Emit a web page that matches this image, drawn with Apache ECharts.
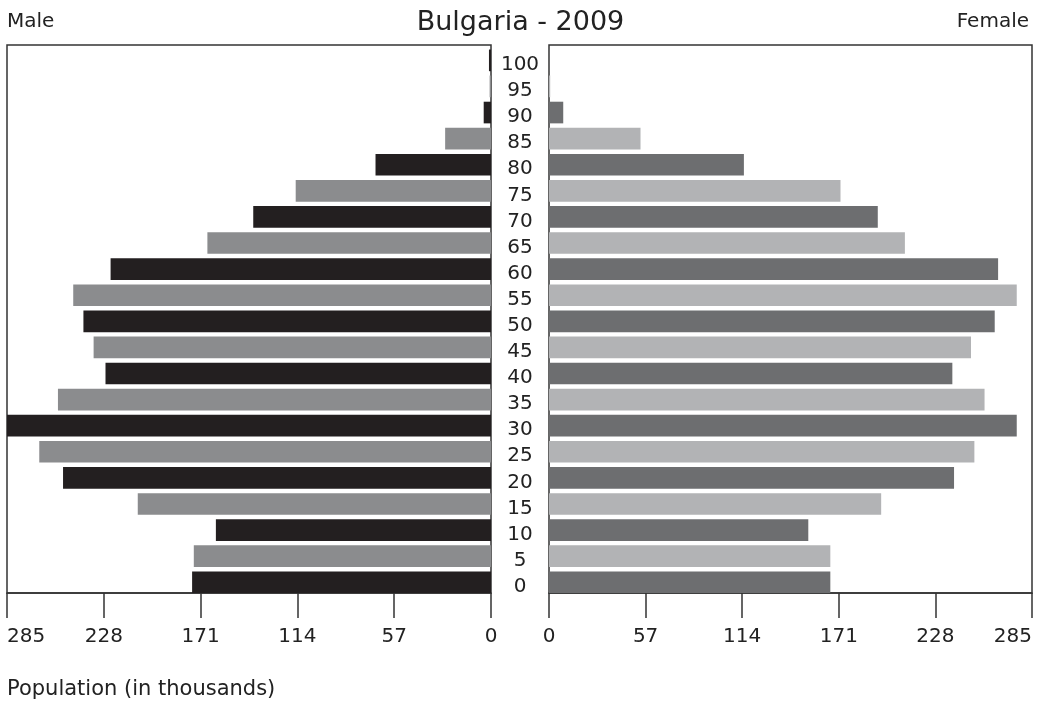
<!DOCTYPE html>
<html>
<head>
<meta charset="utf-8">
<script src="https://cdn.jsdelivr.net/npm/echarts@6/dist/echarts.min.js"></script>
<style>html,body{margin:0;padding:0;background:#fff}#c{width:1041px;height:702px}</style>
</head>
<body>
<div id="c"></div>
<script>
const ages = ['0','5','10','15','20','25','30','35','40','45','50','55','60','65','70','75','80','85','90','95','100'];
const male = [176, 175, 162, 208, 252, 266, 285, 255, 227, 234, 240, 246, 224, 167, 140, 115, 68, 27, 4.3, 0.8, 1.2];
const female = [166, 166, 153, 196, 239, 251, 276, 257, 238, 249, 263, 276, 265, 210, 194, 172, 115, 54, 8.4, 0.7, 0.2];
const xTicks = [0, 57, 114, 171, 228, 285];

const FONT = 'DejaVu Sans';
const maleColors = ['#231f20', '#8b8c8e'];
const femaleColors = ['#6d6e70', '#b2b3b5'];

const chart = echarts.init(document.getElementById('c'));
const range = { type: 'value', min: xTicks[0], max: xTicks[xTicks.length - 1], interval: xTicks[1] - xTicks[0] };
const xVisible = Object.assign({}, range, {
  splitLine: { show: false },
  axisLine: { show: true, lineStyle: { color: '#333', width: 1.5 } },
  axisTick: { show: true, length: 25, lineStyle: { color: '#333', width: 1.5 } },
  axisLabel: { fontFamily: FONT, fontSize: 20, color: '#222', margin: 34 }
});
const xHidden = Object.assign({}, range, { show: false, splitLine: { show: false } });
const gridBase = { containLabel: false, outerBoundsMode: 'none' };
const LEFT = { left: 7, width: 484 }, RIGHT = { left: 549, width: 483 };
chart.setOption({
  animation: false,
  title: [
    { text: 'Bulgaria - 2009', left: 'center', top: 4, textStyle: { fontFamily: FONT, fontSize: 27, fontWeight: 'normal', color: '#222' } },
    { text: 'Male', left: 2, top: 7, textStyle: { fontFamily: FONT, fontSize: 20, fontWeight: 'normal', color: '#222' } },
    { text: 'Female', right: 7, top: 7, textStyle: { fontFamily: FONT, fontSize: 20, fontWeight: 'normal', color: '#222' } },
    { text: 'Population (in thousands)', left: 2, top: 674, textStyle: { fontFamily: FONT, fontSize: 21, fontWeight: 'normal', color: '#222' } }
  ],
  grid: [
    Object.assign({ top: 47.3, height: 548, show: false }, LEFT, gridBase),
    Object.assign({ top: 47.3, height: 548, show: false }, RIGHT, gridBase),
    Object.assign({ top: 45, height: 548, show: true, borderColor: '#333', borderWidth: 1.5 }, LEFT, gridBase),
    Object.assign({ top: 45, height: 548, show: true, borderColor: '#333', borderWidth: 1.5 }, RIGHT, gridBase)
  ],
  xAxis: [
    Object.assign({ gridIndex: 0, inverse: true }, xHidden),
    Object.assign({ gridIndex: 1 }, xHidden),
    Object.assign({ gridIndex: 2, inverse: true }, xVisible, { axisLabel: Object.assign({}, xVisible.axisLabel, { alignMaxLabel: 'left' }) }),
    Object.assign({ gridIndex: 3 }, xVisible, { axisLabel: Object.assign({}, xVisible.axisLabel, { alignMaxLabel: 'right' }) })
  ],
  yAxis: [
    { type: 'category', gridIndex: 0, data: ages, position: 'right',
      axisLine: { show: false }, axisTick: { show: false },
      axisLabel: { align: 'center', verticalAlign: 'top', lineHeight: 9, margin: 29, fontFamily: FONT, fontSize: 20, color: '#222' } },
    { type: 'category', gridIndex: 1, data: ages,
      axisLine: { show: false }, axisTick: { show: false }, axisLabel: { show: false } },
    { type: 'category', gridIndex: 2, data: ages, show: false },
    { type: 'category', gridIndex: 3, data: ages, show: false }
  ],
  series: [
    { type: 'bar', xAxisIndex: 0, yAxisIndex: 0, data: male, barCategoryGap: '17%',
      itemStyle: { color: p => maleColors[p.dataIndex % 2] } },
    { type: 'bar', xAxisIndex: 1, yAxisIndex: 1, data: female, barCategoryGap: '17%',
      itemStyle: { color: p => femaleColors[p.dataIndex % 2] } }
  ]
});
</script>
</body>
</html>
